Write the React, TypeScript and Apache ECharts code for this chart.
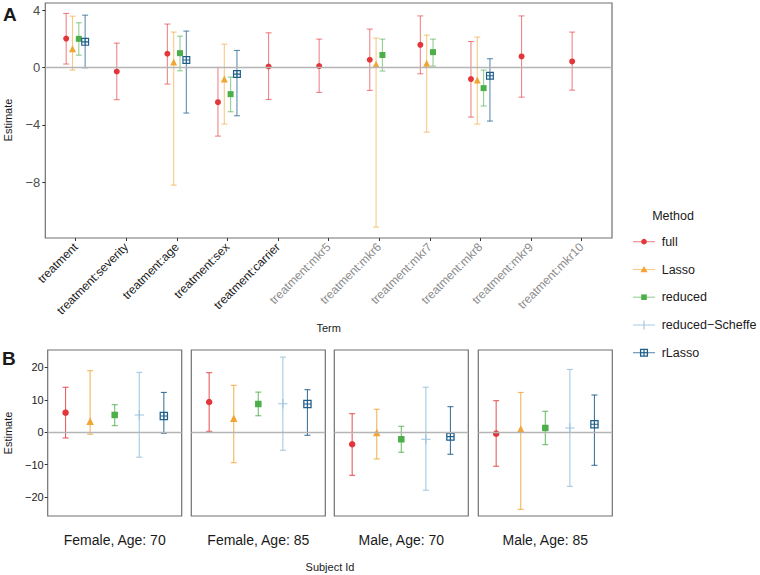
import React, { useEffect, useRef } from "react";
import * as echarts from "echarts";

// ---------- Panel A data ----------
const termsA = [
  "treatment", "treatment:severity", "treatment:age", "treatment:sex", "treatment:carrier",
  "treatment:mkr5", "treatment:mkr6", "treatment:mkr7", "treatment:mkr8", "treatment:mkr9", "treatment:mkr10",
];
const fullEstA = [2.02, -0.28, 0.96, -2.42, 0.07, 0.10, 0.54, 1.58, -0.81, 0.77, 0.42];
const fullLoA = [0.24, -2.25, -1.16, -4.79, -2.23, -1.74, -1.60, -0.44, -3.46, -2.07, -1.58];
const fullHiA = [3.77, 1.70, 3.03, 0.0, 2.42, 1.98, 2.68, 3.60, 1.81, 3.60, 2.47];

const lassoEstA = [1.30, null, 0.38, -0.80, null, null, 0.22, 0.30, -0.88, null, null];
const lassoLoA = [-0.18, null, -8.21, -3.95, null, null, -11.14, -4.51, -3.95, null, null];
const lassoHiA = [3.58, null, 2.47, 1.63, null, null, 2.05, 2.26, 2.12, null, null];

const redEstA = [2.00, null, 1.00, -1.86, null, null, 0.87, 1.07, -1.44, null, null];
const redLoA = [0.86, null, -0.23, -3.09, null, null, -0.25, 0.10, -2.69, null, null];
const redHiA = [3.12, null, 2.19, -0.67, null, null, 1.98, 1.98, -0.18, null, null];

const rlEstA = [1.79, null, 0.52, -0.46, null, null, null, null, -0.58, null, null];
const rlLoA = [-0.02, null, -3.18, -3.37, null, null, null, null, -3.74, null, null];
const rlHiA = [3.65, null, 2.54, 1.19, null, null, null, null, 0.61, null, null];

const yTicksA = [-8, -4, 0, 4];

// ---------- Panel B data ----------
const subjects = ["Female, Age: 70", "Female, Age: 85", "Male, Age: 70", "Male, Age: 85"];
const fullEstB = [6.05, 9.35, -3.7, -0.42];
const fullLoB = [-1.76, 0.3, -13.3, -10.5];
const fullHiB = [13.9, 18.4, 5.74, 9.75];
const lassoEstB = [3.4, 4.3, -0.1, 1.0];
const lassoLoB = [-0.62, -9.4, -8.24, -23.8];
const lassoHiB = [19.0, 14.5, 7.1, 12.3];
const redEstB = [5.34, 8.73, -2.16, 1.33];
const redLoB = [2.04, 5.1, -6.17, -3.83];
const redHiB = [8.52, 12.4, 1.85, 6.48];
const schEstB = [5.34, 8.8, -2.16, 1.33];
const schLoB = [-7.7, -5.56, -17.9, -16.7];
const schHiB = [18.5, 23.2, 13.9, 19.4];
const rlEstB = [5.03, 8.73, -1.34, 2.47];
const rlLoB = [-0.3, -0.93, -6.8, -10.2];
const rlHiB = [12.3, 13.15, 7.9, 11.5];

const yTicksB = [-20, -10, 0, 10, 20];

const methods = ["full", "Lasso", "reduced", "reduced\u2212Scheffe", "rLasso"];

// ---------- styling ----------
const FONT = "Liberation Sans, Arial, Helvetica, sans-serif";
const colors = ["#E2363A", "#F0A535", "#4DAF4A", "#9CC4DD", "#1F5F8B"];
const barColorsA = ["rgba(226,54,58,0.6)", "rgba(240,165,53,0.6)", "rgba(77,175,74,0.6)", "rgba(156,196,221,0.8)", "rgba(31,95,139,0.7)"];
const barColorsB = ["rgba(226,54,58,0.8)", "rgba(240,165,53,0.8)", "rgba(77,175,74,0.8)", "rgba(156,196,221,0.9)", "rgba(31,95,139,0.85)"];
const plusPath = "path://M4.4,0 L5.6,0 L5.6,4.4 L10,4.4 L10,5.6 L5.6,5.6 L5.6,10 L4.4,10 L4.4,5.6 L0,5.6 L0,4.4 L4.4,4.4 Z";
const sqPlusPath =
  "path://M0,0 L10,0 L10,10 L0,10 Z M1.5,1.5 L1.5,4.3 L4.3,4.3 L4.3,1.5 Z M5.7,1.5 L5.7,4.3 L8.5,4.3 L8.5,1.5 Z M1.5,5.7 L1.5,8.5 L4.3,8.5 L4.3,5.7 Z M5.7,5.7 L5.7,8.5 L8.5,8.5 L8.5,5.7 Z";
const symbols = ["circle", "triangle", "rect", plusPath, sqPlusPath];
const symbolSizes = [6, 7, 6, 9, 8];

const minus = (v: number) => String(v).replace("-", "\u2212");

function errRender(color: string, cap: number) {
  return (params: any, api: any) => {
    const x = api.value(0);
    const lo = api.value(1);
    const hi = api.value(2);
    const t = api.coord([x, hi]);
    const b = api.coord([x, lo]);
    const style = { stroke: color, lineWidth: 1.1, fill: null };
    return {
      type: "group",
      children: [
        { type: "line", shape: { x1: t[0], y1: t[1], x2: b[0], y2: b[1] }, style },
        { type: "line", shape: { x1: t[0] - cap, y1: t[1], x2: t[0] + cap, y2: t[1] }, style },
        { type: "line", shape: { x1: b[0] - cap, y1: b[1], x2: b[0] + cap, y2: b[1] }, style },
      ],
    };
  };
}

export default function App() {
  const ref = useRef<HTMLDivElement>(null);
  useEffect(() => {
    if (!ref.current) return;
    const chart = echarts.init(ref.current, undefined, { renderer: "svg" });

    const grids: any[] = [];
    const xAxes: any[] = [];
    const yAxes: any[] = [];
    const series: any[] = [];

    // ---------- Panel A ----------
    grids.push({ left: 45.3, top: 3, width: 566.7, height: 235, show: true, borderColor: "#707070", borderWidth: 1.2, containLabel: false });
    const ticksA = termsA.map((_, i) => i);
    xAxes.push({
      gridIndex: 0, type: "value", min: -0.6, max: 10.6, position: "bottom",
      axisLine: { show: false, onZero: false }, splitLine: { show: false },
      axisTick: { show: true, length: 3, customValues: ticksA, lineStyle: { color: "#333" } },
      axisLabel: {
        show: true, rotate: 45, margin: 7, customValues: ticksA, fontFamily: FONT, fontSize: 12,
        formatter: (v: number) => {
          const i = Math.round(v);
          return `{${i < 5 ? "k" : "g"}|${termsA[i]}}`;
        },
        rich: {
          k: { color: "#1a1a1a", fontFamily: FONT, fontSize: 12 },
          g: { color: "#8c8c8c", fontFamily: FONT, fontSize: 12 },
        },
      },
    });
    yAxes.push({
      gridIndex: 0, type: "value", min: -11.9, max: 4.5, position: "left",
      axisLine: { show: false, onZero: false }, splitLine: { show: false },
      axisTick: { show: true, length: 3, customValues: yTicksA, lineStyle: { color: "#333" } },
      axisLabel: { show: true, customValues: yTicksA, margin: 5, color: "#4d4d4d", fontFamily: FONT, fontSize: 13, formatter: (v: number) => minus(v) },
    });

    series.push({
      type: "line", xAxisIndex: 0, yAxisIndex: 0, data: [], silent: true, z: 1,
      markLine: { silent: true, symbol: "none", label: { show: false }, animation: false, lineStyle: { color: "#b5b5b5", width: 1.3, type: "solid" }, data: [{ yAxis: 0 }] },
    });

    const setsA = [
      { m: 0, est: fullEstA, lo: fullLoA, hi: fullHiA },
      { m: 1, est: lassoEstA, lo: lassoLoA, hi: lassoHiA },
      { m: 2, est: redEstA, lo: redLoA, hi: redHiA },
      { m: 4, est: rlEstA, lo: rlLoA, hi: rlHiA },
    ];
    setsA.forEach((s, k) => {
      const off = (k - 1.5) * 0.125;
      const bars: any[] = [];
      const pts: any[] = [];
      s.est.forEach((e, i) => {
        if (e === null || e === undefined) return;
        bars.push([i + off, s.lo[i], s.hi[i]]);
        pts.push([i + off, e]);
      });
      series.push({
        type: "custom", name: methods[s.m], xAxisIndex: 0, yAxisIndex: 0, z: 3,
        renderItem: errRender(barColorsA[s.m], 3), encode: { x: 0, y: [1, 2] }, data: bars,
      });
      series.push({
        type: "scatter", name: methods[s.m], xAxisIndex: 0, yAxisIndex: 0, z: 4,
        symbol: symbols[s.m], symbolSize: symbolSizes[s.m], itemStyle: { color: colors[s.m], opacity: 1 }, data: pts,
      });
    });

    // ---------- Panel B ----------
    const lefts = [47.7, 191.3, 334.3, 478.3];
    const setsB = [
      { est: fullEstB, lo: fullLoB, hi: fullHiB },
      { est: lassoEstB, lo: lassoLoB, hi: lassoHiB },
      { est: redEstB, lo: redLoB, hi: redHiB },
      { est: schEstB, lo: schLoB, hi: schHiB },
      { est: rlEstB, lo: rlLoB, hi: rlHiB },
    ];
    subjects.forEach((subj, p) => {
      const gi = p + 1;
      grids.push({ left: lefts[p], top: 350, width: 134, height: 166, show: true, borderColor: "#707070", borderWidth: 1.2 });
      xAxes.push({
        gridIndex: gi, type: "value", min: -0.6, max: 0.6, position: "bottom",
        axisLine: { show: false, onZero: false }, splitLine: { show: false }, axisTick: { show: false }, axisLabel: { show: false },
        name: subj, nameLocation: "middle", nameGap: 17,
        nameTextStyle: { fontFamily: FONT, fontSize: 14, color: "#1a1a1a" },
      });
      yAxes.push({
        gridIndex: gi, type: "value", min: -25.85, max: 25.4, position: "left",
        axisLine: { show: false, onZero: false }, splitLine: { show: false },
        axisTick: { show: p === 0, length: 3, customValues: yTicksB, lineStyle: { color: "#333" } },
        axisLabel: { show: p === 0, customValues: yTicksB, margin: 4, color: "#1a1a1a", fontFamily: FONT, fontSize: 11, formatter: (v: number) => minus(v) },
      });
      series.push({
        type: "line", xAxisIndex: gi, yAxisIndex: gi, data: [], silent: true, z: 1,
        markLine: { silent: true, symbol: "none", label: { show: false }, animation: false, lineStyle: { color: "#b5b5b5", width: 1.3, type: "solid" }, data: [{ yAxis: 0 }] },
      });
      setsB.forEach((s, m) => {
        const off = (m - 2) * 0.22;
        series.push({
          type: "custom", name: methods[m], xAxisIndex: gi, yAxisIndex: gi, z: 3,
          renderItem: errRender(barColorsB[m], 3), encode: { x: 0, y: [1, 2] },
          data: [[off, s.lo[p], s.hi[p]]],
        });
        series.push({
          type: "scatter", name: methods[m], xAxisIndex: gi, yAxisIndex: gi, z: 4,
          symbol: symbols[m], symbolSize: symbolSizes[m] + 0.5, itemStyle: { color: colors[m], opacity: 1 },
          data: [[off, s.est[p]]],
        });
      });
    });

    // ---------- texts and legend ----------
    const txt = (text: string, x: number, y: number, size: number, extra: any = {}) => ({
      type: "text", x, y, rotation: extra.rotation || 0, silent: true,
      style: {
        text, fill: extra.fill || "#1a1a1a", fontSize: size, fontFamily: FONT,
        fontWeight: extra.bold ? "bold" : "normal", align: extra.align || "center", verticalAlign: "middle",
      },
    });
    const graphics: any[] = [
      txt("A", 3, 14, 19, { bold: true, align: "left" }),
      txt("B", 2, 358, 19, { bold: true, align: "left" }),
      txt("Estimate", 8, 120, 11, { rotation: Math.PI / 2 }),
      txt("Estimate", 8, 433, 11, { rotation: Math.PI / 2 }),
      txt("Term", 328.6, 328, 11),
      txt("Subject Id", 330, 567, 11),
      txt("Method", 673, 216, 12.5),
    ];
    const legY = [241.7, 269.5, 297.2, 325, 352.7];
    methods.forEach((m, i) => {
      const y = legY[i];
      const cx = 644;
      graphics.push({ type: "line", silent: true, shape: { x1: 633, y1: y, x2: 655, y2: y }, style: { stroke: barColorsA[i], lineWidth: 1.1 } });
      if (i === 0) graphics.push({ type: "circle", silent: true, shape: { cx, cy: y, r: 2.8 }, style: { fill: colors[i] } });
      if (i === 1) graphics.push({ type: "polygon", silent: true, shape: { points: [[cx, y - 3.5], [cx + 3.6, y + 2.8], [cx - 3.6, y + 2.8]] }, style: { fill: colors[i] } });
      if (i === 2) graphics.push({ type: "rect", silent: true, shape: { x: cx - 2.8, y: y - 2.8, width: 5.6, height: 5.6 }, style: { fill: colors[i] } });
      if (i === 3) {
        graphics.push({ type: "line", silent: true, shape: { x1: cx, y1: y - 4.5, x2: cx, y2: y + 4.5 }, style: { stroke: colors[i], lineWidth: 1.1 } });
      }
      if (i === 4) {
        graphics.push({ type: "rect", silent: true, shape: { x: cx - 3.4, y: y - 3.4, width: 6.8, height: 6.8 }, style: { fill: "#fff", stroke: colors[i], lineWidth: 1.3 } });
        graphics.push({ type: "line", silent: true, shape: { x1: cx - 3.4, y1: y, x2: cx + 3.4, y2: y }, style: { stroke: colors[i], lineWidth: 1.2 } });
        graphics.push({ type: "line", silent: true, shape: { x1: cx, y1: y - 3.4, x2: cx, y2: y + 3.4 }, style: { stroke: colors[i], lineWidth: 1.2 } });
      }
      graphics.push(txt(m, 661.7, y, 12.5, { align: "left" }));
    });

    chart.setOption({
      animation: false,
      backgroundColor: "#ffffff",
      textStyle: { fontFamily: FONT },
      grid: grids,
      xAxis: xAxes,
      yAxis: yAxes,
      series,
      graphic: graphics,
    });
    return () => chart.dispose();
  }, []);
  return <div ref={ref} style={{ position: "absolute", left: 0, top: 0, width: 760, height: 575 }} />;
}
